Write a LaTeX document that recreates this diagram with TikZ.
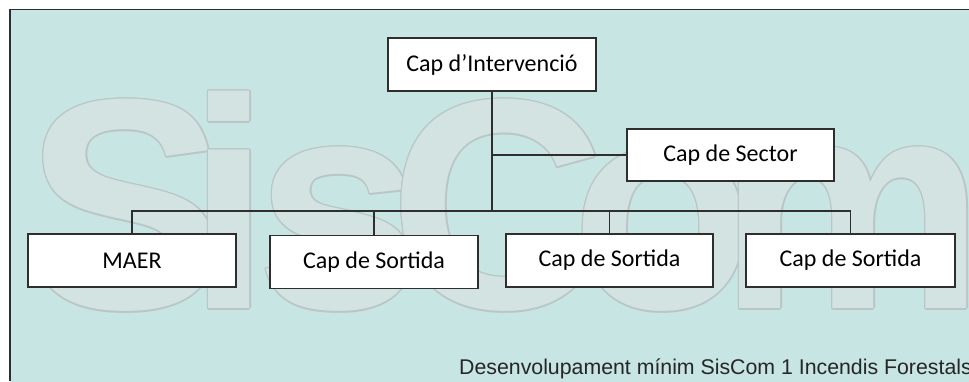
\documentclass[tikz,border=0pt]{standalone}
\usepackage{fontspec}
\setmainfont{Carlito}
\newfontfamily\wmfont{Liberation Sans}
\newfontfamily\footfont{Liberation Sans}
\definecolor{bg}{HTML}{C6E5E3}
\definecolor{wmfill}{HTML}{D2E3E1}
\definecolor{wmline}{HTML}{BAC6C5}
\definecolor{ink}{HTML}{2E2E2E}
\tikzset{
  box/.style={draw=ink, line width=1.8pt, fill=white, minimum width=208pt, minimum height=53pt, inner sep=0pt, font=\fontsize{24}{28}\selectfont},
  conn/.style={draw=ink, line width=1.5pt},
  wm/.style={anchor=base west, inner sep=0pt, font=\wmfont\bfseries\fontsize{300}{300}\selectfont}
}
\begin{document}
\begin{tikzpicture}[x=1pt,y=-1pt]
\useasboundingbox (0,0) rectangle (969,381);
\fill[bg] (10,9) rectangle (985,395);
% watermark, letter by letter
\foreach \ch/\xx [count=\j] in {S/25.5,i/187.5,s/255.5,C/389.5,o/571.5,m/718.5} {
  \foreach \dx/\dy [count=\k] in {1.5/0,-1.5/0,0/1.5,0/-1.5,1.1/1.1,-1.1/1.1,1.1/-1.1,-1.1/-1.1}
    \node[wm, text=wmline] (wmo\j-\k) at (\xx+\dx,308.5+\dy) {\ch};
  \node[wm, text=wmfill] (wmt\j) at (\xx,308.5) {\ch};
}
% boxes
\node[box] (ci) at (492,64.5) {Cap d’Intervenció};
\node[box, minimum width=207pt, minimum height=52pt] (cs) at (730.5,155) {Cap de Sector};
\node[box] (maer) at (132,260.5) {MAER};
\node[box] (s1) at (374,262) {Cap de Sortida};
\node[box, minimum width=207pt] (s2) at (609.5,260.5) {Cap de Sortida};
\node[box, minimum width=209pt] (s3) at (850.5,260.5) {Cap de Sortida};
% connectors
\coordinate (bus) at (492,211);
\draw[conn] (ci.south) -- (bus);
\draw[conn] (ci.south |- cs.west) -- (cs.west);
\draw[conn] (maer.north) |- (bus);
\draw[conn] (s3.north) |- (bus);
\draw[conn] (s1.north) -- (s1.north |- bus);
\draw[conn] (s2.north) -- (s2.north |- bus);
% frame
\draw[ink, line width=1.5pt] (10,381) -- (10,9.5) -- (969,9.5);
% footer
\node[anchor=base west, inner sep=0pt, font=\footfont\fontsize{21.3}{25}\selectfont, text=black!85] (foot) at (459,374) {Desenvolupament mínim SisCom 1 Incendis Forestals};
\end{tikzpicture}
\end{document}
